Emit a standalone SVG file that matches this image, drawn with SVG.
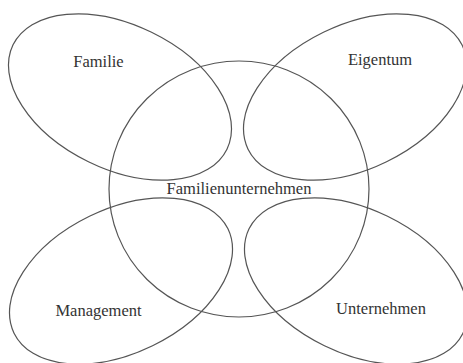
<svg xmlns="http://www.w3.org/2000/svg" width="463" height="363" viewBox="0 0 463 363">
<style>
.e{fill:none;stroke:#555;stroke-width:1.2}
.t{font-family:"Liberation Serif","Times New Roman",serif;font-size:16.5px;fill:#333;text-anchor:middle}
</style>
<rect width="463" height="363" fill="#fff"/>
<g id="familienunternehmen"><ellipse class="e" cx="239" cy="189" rx="130" ry="128"/><text class="t" x="239" y="194">Familienunternehmen</text></g>
<g id="familie"><ellipse class="e" cx="120" cy="97" rx="119" ry="72" transform="rotate(26 120 97)"/><text class="t" x="98.5" y="67">Familie</text></g>
<g id="eigentum"><ellipse class="e" cx="355" cy="97" rx="119" ry="72" transform="rotate(-26 355 97)"/><text class="t" x="380" y="65">Eigentum</text></g>
<g id="management"><ellipse class="e" cx="121" cy="281" rx="119" ry="72" transform="rotate(-26 121 281)"/><text class="t" x="98.5" y="316">Management</text></g>
<g id="unternehmen"><ellipse class="e" cx="356" cy="281" rx="119" ry="72" transform="rotate(26 356 281)"/><text class="t" x="381" y="314">Unternehmen</text></g>
<g id="connectors"/>
</svg>
